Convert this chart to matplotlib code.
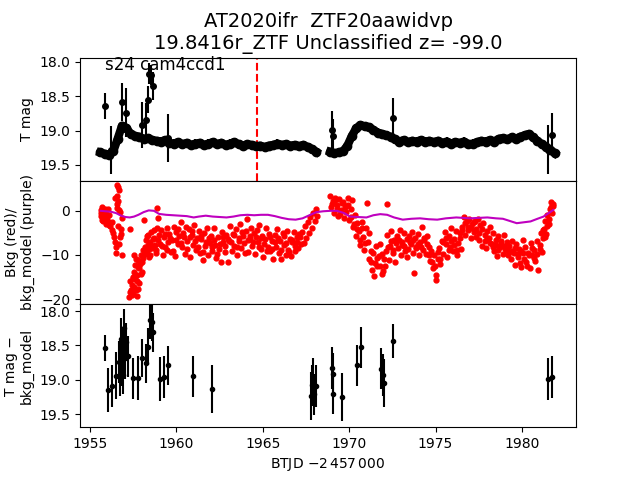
import numpy as np
import matplotlib
matplotlib.use("Agg")
import matplotlib.pyplot as plt

# TESS light curve, orbit 1
lc_time_1 = [1955.6, 1955.85, 1956.1, 1956.35, 1956.6, 1956.85, 1957.1, 1957.35, 1957.6, 1957.85,
             1958.1, 1958.35, 1958.6, 1958.85, 1959.1, 1959.35, 1959.6, 1959.85, 1960.1, 1960.35,
             1960.6, 1960.85, 1961.1, 1961.35, 1961.6, 1961.85, 1962.1, 1962.35, 1962.6, 1962.85,
             1963.1, 1963.35, 1963.6, 1963.85, 1964.1, 1964.35, 1964.6, 1964.85, 1965.1, 1965.35,
             1965.6, 1965.85, 1966.1, 1966.35, 1966.6, 1966.85, 1967.1, 1967.35, 1967.6, 1967.85,
             1968.1]
lc_mag_1 = [19.32, 19.34, 19.35, 19.30, 19.12, 18.93, 18.96, 19.05, 19.08, 19.09,
            19.12, 19.11, 19.14, 19.15, 19.16, 19.14, 19.18, 19.19, 19.17, 19.20,
            19.18, 19.21, 19.19, 19.18, 19.21, 19.19, 19.17, 19.20, 19.18, 19.21,
            19.19, 19.17, 19.20, 19.22, 19.20, 19.21, 19.23, 19.22, 19.24, 19.22,
            19.21, 19.19, 19.21, 19.20, 19.22, 19.21, 19.23, 19.21, 19.24, 19.27,
            19.31]

# TESS light curve, orbit 2
lc_time_2 = [1968.9, 1969.15, 1969.4, 1969.65, 1969.9, 1970.15, 1970.4, 1970.65, 1970.9, 1971.15,
             1971.4, 1971.65, 1971.9, 1972.15, 1972.4, 1972.65, 1972.9, 1973.15, 1973.4, 1973.65,
             1973.9, 1974.15, 1974.4, 1974.65, 1974.9, 1975.15, 1975.4, 1975.65, 1975.9, 1976.15,
             1976.4, 1976.65, 1976.9, 1977.15, 1977.4, 1977.65, 1977.9, 1978.15, 1978.4, 1978.65,
             1978.9, 1979.15, 1979.4, 1979.65, 1979.9, 1980.15, 1980.4, 1980.65, 1980.9, 1981.15,
             1981.4, 1981.65, 1981.9]
lc_mag_2 = [19.31, 19.33, 19.32, 19.30, 19.22, 19.08, 18.97, 18.92, 18.94, 18.95,
            18.99, 19.03, 19.05, 19.07, 19.09, 19.13, 19.16, 19.14, 19.17, 19.15,
            19.16, 19.14, 19.16, 19.15, 19.17, 19.15, 19.18, 19.16, 19.19, 19.17,
            19.18, 19.16, 19.20, 19.19, 19.17, 19.15, 19.16, 19.14, 19.16, 19.12,
            19.11, 19.13, 19.10, 19.12, 19.09, 19.07, 19.05, 19.10, 19.15, 19.20,
            19.24, 19.28, 19.33]

# outliers in the light curve
out_time = [1955.87, 1956.22, 1956.83, 1957.1, 1957.99, 1958.24, 1958.34, 1958.43, 1958.53,
            1958.66, 1959.5, 1969.0, 1969.08, 1972.55, 1981.52, 1981.72]
out_mag = [18.64, 19.28, 18.58, 18.74, 18.92, 18.85, 18.55, 18.17, 18.19,
           18.35, 19.11, 18.99, 19.08, 18.82, 19.28, 19.06]
out_err = [0.19, 0.35, 0.28, 0.36, 0.33, 0.25, 0.2, 0.15, 0.15,
           0.2, 0.35, 0.28, 0.25, 0.29, 0.36, 0.31]

# background flux (red points)
bkg_time = [1955.62, 1955.66, 1955.70, 1955.74, 1955.78, 1955.82, 1955.86, 1955.90, 1955.95, 1955.99,
            1956.03, 1956.07, 1956.10, 1956.25, 1956.35, 1956.41, 1956.45, 1956.45, 1956.49, 1956.54,
            1956.54, 1956.56, 1956.6, 1956.6, 1956.64, 1956.68, 1956.7, 1956.74, 1956.74, 1956.8,
            1956.83, 1956.87, 1957.31,
            1957.28, 1957.31, 1957.37, 1957.41, 1957.5, 1957.5, 1957.56, 1957.57, 1957.6, 1957.66,
            1957.7, 1957.74, 1957.74, 1957.79, 1957.79, 1957.85, 1957.9, 1957.95, 1957.99, 1958.05,
            1958.08,
            1958.14, 1958.18, 1958.24, 1958.28, 1958.33, 1958.37, 1958.43, 1958.47, 1958.53, 1958.57,
            1958.62, 1958.7, 1958.76, 1958.82, 1958.85, 1958.89, 1958.91, 1958.97, 1959.05,
            1959.12, 1959.2, 1959.28, 1959.36, 1959.44, 1959.52, 1959.6, 1959.68, 1959.76, 1959.84,
            1959.92, 1960.0, 1960.08, 1960.16,
            1960.24, 1960.32, 1960.4, 1960.48, 1960.56, 1960.64, 1960.72, 1960.8, 1960.88, 1960.96,
            1961.04, 1961.12, 1961.2,
            1961.28, 1961.36, 1961.44, 1961.52, 1961.6, 1961.68, 1961.76, 1961.84, 1961.92, 1962.0,
            1962.08, 1962.16, 1962.24, 1962.32, 1962.4, 1962.48, 1962.56, 1962.64, 1962.72, 1962.8,
            1962.88, 1962.96,
            1963.04, 1963.12, 1963.2, 1963.28, 1963.36, 1963.44, 1963.52, 1963.6, 1963.68, 1963.76,
            1963.84, 1963.92, 1964.0, 1964.08, 1964.16, 1964.24, 1964.32, 1964.4, 1964.48,
            1964.56, 1964.64, 1964.72, 1964.8, 1964.88, 1964.96, 1965.04, 1965.12, 1965.2, 1965.28,
            1965.36, 1965.44, 1965.52,
            1965.6, 1965.68, 1965.76, 1965.84, 1965.92, 1966.0, 1966.08, 1966.16, 1966.24, 1966.32,
            1966.4, 1966.48, 1966.56, 1966.64, 1966.72, 1966.8, 1966.88, 1966.96, 1967.04, 1967.12,
            1967.2,
            1967.28, 1967.36, 1967.44, 1967.52, 1967.6, 1967.68, 1967.76, 1967.84, 1967.92, 1968.0,
            1968.08, 1968.16,
            1968.88, 1968.96, 1969.04, 1969.12, 1969.2, 1969.28, 1969.36, 1969.44, 1969.52, 1969.6,
            1969.68, 1969.76,
            1969.84, 1969.92, 1970.0, 1970.08, 1970.16, 1970.24, 1970.32, 1970.4, 1970.48,
            1970.56, 1970.64, 1970.72, 1970.8, 1970.88, 1970.96, 1971.01, 1971.08, 1971.16, 1971.24,
            1971.32, 1971.4, 1971.48, 1971.56, 1971.64, 1971.72, 1971.8, 1971.88, 1971.96, 1972.04,
            1972.12, 1972.17,
            1972.2, 1972.28, 1972.36, 1972.44, 1972.52, 1972.6, 1972.68, 1972.76, 1972.84, 1972.92,
            1973.0, 1973.08, 1973.16, 1973.24, 1973.32, 1973.4, 1973.48,
            1973.56, 1973.64, 1973.72, 1973.75, 1973.8, 1973.88, 1973.96, 1974.04, 1974.12, 1974.19,
            1974.28, 1974.36, 1974.44, 1974.52,
            1974.6, 1974.68, 1974.76, 1974.84, 1974.92, 1975.0, 1975.04, 1975.12, 1975.2, 1975.28,
            1975.36, 1975.44, 1975.52, 1975.6, 1975.68, 1975.76, 1975.84, 1975.92, 1976.0, 1976.08,
            1976.16, 1976.24, 1976.32, 1976.4, 1976.48,
            1976.56, 1976.64, 1976.72, 1976.8, 1976.88, 1976.96, 1977.04, 1977.12, 1977.2, 1977.28,
            1977.36, 1977.44, 1977.52, 1977.6, 1977.68, 1977.76, 1977.84, 1977.92, 1978.0, 1978.08,
            1978.16,
            1978.24, 1978.32, 1978.4, 1978.48, 1978.56, 1978.64, 1978.72, 1978.8, 1978.88, 1978.96,
            1979.04, 1979.12, 1979.2,
            1979.28, 1979.36, 1979.44, 1979.52, 1979.6, 1979.68, 1979.76, 1979.84, 1979.88, 1979.96,
            1980.04, 1980.12, 1980.2, 1980.28, 1980.36, 1980.46, 1980.52, 1980.6, 1980.68, 1980.76,
            1980.86, 1980.94,
            1981.02, 1981.1, 1981.18, 1981.24,
            1981.3, 1981.36, 1981.42, 1981.48, 1981.54, 1981.6, 1981.66, 1981.72, 1981.78]
bkg_flux = [0.3, -1.2, 0.8, -0.5, -2.4, 0.1, -1.6, -3.0, -0.8, -2.2,
            0.4, -3.3, -1.0, -2.5, -5.1, -6.0, -7.0, 2.9, -9.6, 3.3,
            0.6, 5.9, 5.5, -3.4, 2.2, 4.8, -7.5, -0.3, -6.0, -4.1,
            -1.7, -9.9, -4.1,
            -19.5, -18.3, -17.9, -16.8, -15.3, -18.7, -10.0, -13.8, -12.3, -10.8,
            -16.0, -19.4, -14.5, -17.6, -11.1, -13.0, -11.5, -10.0, -13.8, -8.9,
            -10.7,
            -2.0, -8.1, -6.6, -9.2, -7.7, -5.5, -10.5, -7.0, -4.8, -8.5,
            -6.3, -4.4, -7.7, -9.6, -4.0, 0.6, -1.7, -5.5, -7.4,
            -4.4, -9.9, -5.9, -8.3, -3.8, -7.0, -5.3, -9.4, -6.5, -3.6,
            -10.3, -4.9, -7.6, -5.6,
            -2.5, -8.1, -5.0, -9.8, -3.6, -6.9, -4.2, -10.4, -5.5, -7.7,
            -3.1, -8.8, -6.2,
            -4.6, -9.6, -6.3, -11.2, -5.1, -8.0, -4.0, -10.1, -7.2, -5.7,
            -9.0, -3.9, -7.8, -10.6, -6.0, -8.7, -11.6, -4.8, -7.1, -9.4,
            -5.4, -11.7,
            -6.8, -3.5, -9.1, -5.2, -7.9, -4.1, -10.0, -6.1, -3.0, -8.4,
            -5.6, -7.2, -4.5, -1.8, -9.3, -6.4, -3.8, -8.0, -5.0,
            -9.7, -4.3, -7.0, -3.2, -8.6, -5.7, -10.4, -6.3, -4.0, -8.1,
            -5.2, -9.2, -6.8,
            -10.9, -5.4, -8.3, -4.2, -9.6, -6.8, -11.0, -5.0, -7.7, -9.9,
            -4.6, -8.8, -6.3, -10.3, -7.1, -4.8, -9.1, -6.0, -8.4, -5.3,
            -7.5,
            -4.9, -7.3, -3.4, -6.2, -2.6, -5.0, -1.5, -3.9, -0.6, -2.4,
            0.5, -1.2,
            3.4, 0.8, 2.2, -0.6, 3.0, 1.4, -1.2, 2.6, 0.2, 1.8,
            -1.6, 0.9,
            1.2, 3.0, -2.0, 0.4, 2.5, -3.6, -1.0, -5.8, -2.8,
            -4.5, -7.8, -2.6, -6.0, -8.9, -3.9, 1.7, -7.0, -5.1, -9.0,
            -13.5, -9.6, -11.8, -8.0, -12.4, -10.2, -7.5, -14.3, -13.6, -11.0,
            -9.0, 1.6,
            -5.4, -11.2, -7.9, -4.5, -9.5, -6.6, -11.7, -5.8, -8.4, -4.3,
            -10.0, -7.1, -5.0, -9.1, -6.3, -8.7, -5.6,
            -7.6, -4.9, -9.6, -14.1, -6.1, -8.5, -5.3, -10.1, -7.0, -3.6,
            -8.9, -6.2, -9.8, -5.7,
            -8.2, -11.4, -9.0, -12.9, -10.1, -15.6, -14.6, -10.8, -8.4, -12.1,
            -6.9, -9.8, -4.8, -7.6, -10.5, -5.6, -8.3, -3.9, -9.2, -6.4,
            -4.6, -10.0, -7.2, -5.1, -8.7,
            -3.6, -1.5, -5.4, -2.4, -4.4, -1.8, -6.2, -3.0, -4.9, -2.2,
            -4.1, -1.9, -6.7, -3.2, -7.9, -2.8, -5.5, -8.4, -4.6, -6.1,
            -3.7,
            -7.4, -5.1, -9.2, -6.5, -10.2, -5.8, -8.1, -6.9, -9.7, -5.4,
            -8.6, -7.0, -10.0,
            -8.0, -11.0, -6.8, -9.6, -12.2, -7.5, -10.4, -8.6, -11.9, -9.1,
            -6.6, -10.8, -8.3, -12.5, -9.5, -13.0, -7.2, -10.1, -8.8, -11.3,
            -6.9, -13.4,
            -7.8, -5.0, -9.4, -6.1,
            -4.2, -2.4, -5.2, -1.0, -3.0, 0.4, 2.0, -0.6, 1.0]

# more background points (second cadence set, fills the cloud)
bkg_time_b = [1955.64, 1955.72, 1955.8, 1955.88, 1955.97, 1956.05, 1956.15, 1956.3, 1956.5, 1956.58,
              1956.66, 1956.78,
              1957.33, 1957.44, 1957.46, 1957.53, 1957.62, 1957.69, 1957.77, 1957.82, 1957.88, 1957.93,
              1958.02,
              1958.2, 1958.3, 1958.4, 1958.5, 1958.6, 1958.72, 1958.8, 1958.94,
              1959.16, 1959.32, 1959.48, 1959.64, 1959.8, 1959.96, 1960.12, 1960.28, 1960.44, 1960.6,
              1960.76, 1960.92, 1961.08, 1961.24, 1961.4, 1961.56, 1961.72, 1961.88, 1962.04, 1962.2,
              1962.36, 1962.52, 1962.68, 1962.84, 1963.0, 1963.16, 1963.32, 1963.48, 1963.64, 1963.8,
              1963.96, 1964.12, 1964.28, 1964.44, 1964.6, 1964.76, 1964.92, 1965.08, 1965.24, 1965.4,
              1965.56, 1965.72, 1965.88, 1966.04, 1966.2, 1966.36, 1966.52, 1966.68, 1966.84, 1967.0,
              1967.16,
              1969.0, 1969.16, 1969.32, 1969.48, 1969.64, 1969.8, 1969.96, 1970.12, 1970.28, 1970.44,
              1970.6, 1970.76, 1970.92, 1971.12, 1971.28, 1971.44, 1971.6, 1971.76, 1971.92, 1972.08,
              1972.24, 1972.4, 1972.56, 1972.72, 1972.88, 1973.04, 1973.2, 1973.36, 1973.52, 1973.68,
              1973.84, 1974.0, 1974.16, 1974.32, 1974.48, 1974.64, 1974.8, 1974.96, 1975.12, 1975.28,
              1975.44, 1975.6, 1975.76, 1975.92, 1976.08, 1976.24, 1976.4, 1976.56, 1976.72, 1976.88,
              1977.04, 1977.2, 1977.36, 1977.52, 1977.68, 1977.84, 1978.0, 1978.16, 1978.32, 1978.48,
              1978.64, 1978.8, 1978.96, 1979.12, 1979.28, 1979.44, 1979.6, 1979.76, 1979.92, 1980.08,
              1980.24, 1980.4, 1980.56, 1980.72, 1980.88,
              1981.06, 1981.2, 1981.33, 1981.45, 1981.57, 1981.69, 1981.8]
bkg_flux_b = [-0.6, -2.0, -0.9, 0.5, -1.8, -2.6, -3.5, -4.4, -8.2, 1.5,
              0.2, -5.3,
              -16.0, -19.0, -15.0, -17.2, -15.5, -18.0, -12.8, -16.3, -12.0, -14.4,
              -11.6,
              -9.8, -5.8, -8.6, -9.9, -7.9, -6.2, -8.8, -6.7,
              -7.9, -5.2, -8.8, -6.1, -9.0, -6.7, -4.1, -7.2, -6.0, -8.7,
              -5.9, -4.6, -6.9, -8.2, -5.7, -9.3, -7.0, -6.2, -8.1, -6.6,
              -9.7, -7.4, -5.9, -8.0, -6.4, -7.0, -5.4, -8.2, -6.9, -4.7,
              -9.6, -6.7, -5.6, -7.1, -5.9, -8.3, -6.2, -7.5, -9.1, -6.0,
              -8.6, -7.0, -6.1, -8.9, -5.8, -7.2, -9.4, -6.5, -8.0, -7.1,
              -6.0,
              1.6, 2.4, 0.5, -0.8, 2.1, -0.2, 1.4, -1.5, -3.0, -4.2,
              -6.5, -4.0, -7.2, -10.8, -11.5, -14.8, -10.6, -12.6, -9.8, -12.4,
              -8.3, -6.9, -8.8, -7.3, -6.5, -7.8, -8.0, -10.4, -7.0, -6.6,
              -8.1, -7.5, -8.3, -6.7, -7.6, -10.0, -11.7, -12.6, -9.4, -11.0,
              -7.1, -6.2, -8.9, -6.8, -7.8, -8.9, -6.2, -4.4, -2.8, -3.6,
              -4.0, -2.6, -5.9, -5.0, -4.2, -6.9, -6.4, -7.3, -8.2, -7.8,
              -8.9, -7.6, -8.0, -8.8, -9.3, -9.1, -8.4, -9.8, -12.8, -9.6,
              -11.6, -9.9, -8.4, -10.6, -9.8,
              -8.6, -4.4, -6.0, -3.4, -1.8, 0.8, 1.5]

# background model (purple line)
model_time = [1955.62, 1955.9, 1956.2, 1956.5, 1956.8, 1957.05, 1957.3, 1957.55, 1957.8, 1958.1,
              1958.4, 1958.7, 1959.0, 1959.4, 1959.8, 1960.2, 1960.6, 1961.0, 1961.3, 1961.7,
              1962.1, 1962.5, 1962.9, 1963.3, 1963.7, 1964.1, 1964.5, 1964.9, 1965.3, 1965.7,
              1966.1, 1966.5, 1966.9, 1967.3, 1967.7, 1968.1, 1968.5, 1968.9, 1969.3, 1969.7,
              1970.05, 1970.5, 1971.0, 1971.4, 1971.8, 1972.2, 1972.6, 1973.1, 1973.6, 1974.1,
              1974.6, 1975.1, 1975.6, 1976.2, 1976.6, 1977.0, 1977.5, 1978.0, 1978.5, 1978.9,
              1979.3, 1979.7, 1980.1, 1980.5, 1980.9, 1981.25, 1981.55, 1981.82]
model_flux = [0.0, -0.1, -0.2, -0.5, -1.1, -1.4, -1.5, -1.3, -0.9, -0.3,
              0.1, 0.0, -0.7, -0.9, -1.0, -1.1, -1.2, -1.5, -1.3, -1.1,
              -1.3, -1.4, -1.5, -1.3, -1.0, -0.9, -1.0, -0.9, -0.9, -1.2,
              -1.6, -1.9, -2.0, -1.7, -1.0, -0.3, -0.1, 0.0, 0.0, -0.5,
              -1.3, -1.4, -1.5, -1.0, -0.75, -0.9, -1.5, -2.0, -1.8, -1.7,
              -1.9, -2.0, -1.7, -1.5, -1.6, -1.7, -1.6, -1.5, -1.7, -1.8,
              -2.3, -2.8, -2.6, -2.4, -1.8, -1.3, -0.5, 0.2]

# T mag minus background model
diff_time = [1955.87, 1956.06, 1956.26, 1956.5, 1956.7, 1956.74, 1956.79, 1956.83, 1956.89, 1956.93,
             1956.99, 1957.03, 1957.08, 1957.22, 1957.47, 1957.8, 1958.01, 1958.24, 1958.34, 1958.47,
             1958.57, 1958.66, 1959.05, 1959.28, 1959.53, 1960.98, 1962.08,
             1967.77, 1967.83, 1967.88, 1967.96, 1968.08, 1969.0, 1969.08, 1969.08, 1969.6, 1970.47,
             1970.7, 1971.86, 1971.94, 1972.01, 1972.55, 1981.52, 1981.72]
diff_mag = [18.54, 19.15, 19.09, 18.94, 18.74, 18.93, 18.40, 18.79, 18.93, 18.54,
            18.25, 18.69, 18.45, 18.66, 18.98, 18.98, 18.68, 18.76, 18.52, 18.13,
            18.16, 18.31, 18.99, 18.96, 18.79, 18.95, 19.14,
            19.24, 19.08, 18.98, 19.21, 19.09, 18.83, 18.91, 19.20, 19.25, 18.79,
            18.53, 18.84, 18.93, 19.05, 18.44, 18.99, 18.96]
diff_err = [0.19, 0.32, 0.30, 0.34, 0.30, 0.30, 0.30, 0.30, 0.28, 0.30,
            0.28, 0.30, 0.28, 0.30, 0.30, 0.32, 0.28, 0.28, 0.27, 0.28,
            0.27, 0.28, 0.32, 0.30, 0.28, 0.30, 0.35,
            0.35, 0.30, 0.30, 0.30, 0.30, 0.30, 0.30, 0.30, 0.35, 0.30,
            0.30, 0.30, 0.30, 0.35, 0.25, 0.30, 0.30]

discovery = 1964.68

fig, axs = plt.subplots(3, 1, sharex=True, figsize=(6.4, 4.8), dpi=100)
plt.subplots_adjust(hspace=0)

# top: light curve
ax = axs[0]
for t, m in [(lc_time_1, lc_mag_1), (lc_time_2, lc_mag_2)]:
    ax.errorbar(t, m, yerr=0.06, fmt="o-", color="k", ms=6, lw=6, elinewidth=1.5)
ax.errorbar(out_time, out_mag, yerr=out_err, fmt="o", color="k", ms=4)
ax.axvline(discovery, color="r", ls="--", lw=1.5)
ax.set_ylim(19.733, 17.936)
ax.set_yticks([18.0, 18.5, 19.0, 19.5])
ax.set_ylabel("T mag")
ax.text(0.05, 0.9, "s24 cam4ccd1", transform=ax.transAxes, fontsize=12)
ax.set_title("AT2020ifr  ZTF20aawidvp\n19.8416r_ZTF Unclassified z= -99.0", fontsize=14)

# middle: background
ax = axs[1]
ax.plot(bkg_time, bkg_flux, "r.", ms=7)
ax.plot(bkg_time_b, bkg_flux_b, "r.", ms=7)
ax.plot(model_time, model_flux, color="m", lw=1.5)
ax.set_ylim(-21.1, 6.8)
ax.set_yticks([-20, -10, 0])
ax.set_ylabel("Bkg (red)/\nbkg_model (purple)")

# bottom: difference
ax = axs[2]
ax.errorbar(diff_time, diff_mag, yerr=diff_err, fmt=".", color="k", ms=6)
ax.set_ylim(19.69, 17.898)
ax.set_yticks([18.0, 18.5, 19.0, 19.5])
ax.set_ylabel("T mag \u2212\nbkg_model")
ax.set_xlim(1954.42, 1983.13)
ax.set_xticks([1955, 1960, 1965, 1970, 1975, 1980])
ax.set_xlabel(r"BTJD $-2\,457\,000$")

plt.savefig("out.png")
